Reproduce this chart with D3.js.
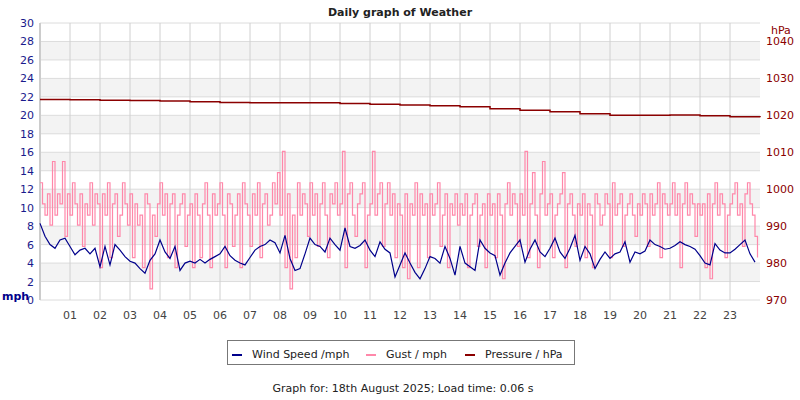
<!DOCTYPE html>
<html>
<head>
<meta charset="utf-8">
<script src="https://cdn.jsdelivr.net/npm/d3@7"></script>
<style>
body{margin:0;background:#fff;}
text{font-family:"DejaVu Sans",sans-serif;}
</style>
</head>
<body>
<svg id="chart" width="800" height="400"></svg>
<script>
// hour tick labels
const hourLabels = ["01","02","03","04","05","06","07","08","09","10","11","12","13","14","15","16","17","18","19","20","21","22","23"];

// wind speed, 10 minute samples (mph)
const windSpeed = [
  8.3,6.9,6.0,5.6,6.5,6.7, 5.8,4.9,5.4,5.6,5.0,5.6, 3.6,5.8,3.8,6.0,5.4,4.7,
  4.2,4.0,3.4,2.9,4.3,5.0, 6.5,5.2,4.5,5.8,3.2,4.0, 4.2,4.0,4.4,4.0,4.4,4.7,
  5.0,5.8,4.8,4.3,4.0,3.8, 4.6,5.4,5.8,6.0,6.5,6.2, 5.1,7.0,4.5,3.2,3.4,5.0,
  6.7,6.0,5.8,5.2,6.7,6.0, 5.4,7.8,5.8,5.6,5.9,6.5, 5.4,4.7,6.3,5.5,5.1,2.5,
  3.8,5.1,4.0,3.0,2.3,3.4, 4.7,4.5,4.0,5.8,4.5,2.7, 5.8,4.0,3.6,3.2,6.5,5.6,
  5.1,4.8,2.7,4.0,5.1,5.8, 6.5,4.1,5.5,6.5,5.2,4.7, 5.6,6.7,5.2,4.5,5.6,7.0,
  4.3,5.8,5.0,3.4,4.4,5.2, 4.5,5.0,5.2,6.3,4.1,5.2, 5.0,5.3,6.5,6.0,5.8,5.5,
  5.6,5.9,6.3,6.0,5.8,5.5, 4.8,4.0,3.8,6.1,5.4,5.1, 5.1,5.5,6.0,6.5,5.0,4.1
];

// gust, 5 minute samples (mph)
const gust = [
  12.7,10.4,9.2,11.5,8.1,15.0,9.2,11.5,10.4,15.0,6.9,11.5,
  9.2,12.7,10.4,8.1,11.5,5.8,10.4,9.2,12.7,8.1,11.5,10.4,
  3.5,11.5,9.2,12.7,4.6,10.4,11.5,6.9,9.2,12.7,10.4,8.1,
  11.5,4.6,10.4,8.1,9.2,3.5,11.5,10.4,1.2,9.2,6.9,10.4,
  12.7,9.2,11.5,4.6,10.4,11.5,3.5,9.2,10.4,11.5,5.8,9.2,
  10.4,3.5,11.5,9.2,4.6,10.4,12.7,9.2,3.5,11.5,9.2,10.4,
  12.7,9.2,3.5,11.5,10.4,5.8,9.2,11.5,3.5,12.7,10.4,9.2,
  5.8,11.5,9.2,12.7,4.6,10.4,11.5,8.1,9.2,12.7,10.4,13.8,
  9.2,16.1,3.5,11.5,1.2,9.2,4.6,12.7,9.2,11.5,10.4,6.9,
  12.7,9.2,11.5,5.8,10.4,12.7,9.2,4.6,11.5,10.4,12.7,9.2,
  10.4,16.1,3.5,11.5,12.7,9.2,6.9,10.4,11.5,12.7,3.5,9.2,
  10.4,16.1,9.2,11.5,12.7,5.8,10.4,12.7,9.2,11.5,4.6,10.4,
  9.2,3.5,11.5,2.3,10.4,9.2,12.7,3.5,11.5,9.2,10.4,4.6,
  11.5,9.2,10.4,12.7,5.8,9.2,11.5,3.5,10.4,9.2,11.5,8.1,
  10.4,9.2,11.5,3.5,9.2,10.4,11.5,5.8,9.2,10.4,3.5,11.5,
  9.2,10.4,4.6,11.5,9.2,2.3,10.4,12.7,9.2,11.5,10.4,5.8,
  11.5,9.2,16.1,4.6,10.4,13.8,9.2,3.5,11.5,15.0,9.2,10.4,
  11.5,4.6,9.2,10.4,11.5,13.8,3.5,10.4,11.5,9.2,5.8,10.4,
  9.2,11.5,4.6,10.4,9.2,3.5,11.5,10.4,8.1,9.2,11.5,10.4,
  4.6,12.7,9.2,10.4,11.5,5.8,9.2,10.4,11.5,9.2,6.9,10.4,
  9.2,11.5,10.4,5.8,11.5,9.2,10.4,12.7,4.6,11.5,10.4,9.2,
  10.4,12.7,9.2,11.5,3.5,10.4,12.7,9.2,11.5,10.4,6.9,10.4,
  9.2,10.4,3.5,11.5,2.3,10.4,12.7,9.2,11.5,10.4,4.6,9.2,
  10.4,11.5,12.7,9.2,10.4,5.8,11.5,12.7,10.4,9.2,6.9,4.6
];

// pressure, hourly (hPa)
const pressure = [1024.3,1024.2,1024.1,1024.0,1023.9,1023.7,1023.5,1023.4,1023.4,1023.4,1023.2,1023.0,
  1022.8,1022.6,1022.3,1021.8,1021.4,1021.0,1020.4,1020.0,1020.0,1020.1,1019.9,1019.6,1019.5];

const svg = d3.select("#chart");
const pLeft = 40, pRight = 760, pTop = 23, pBottom = 300;

const x = d3.scaleLinear().domain([0, 24]).range([pLeft, pRight]);
const y = d3.scaleLinear().domain([0, 30]).range([pBottom, pTop]);
const yP = d3.scaleLinear().domain([970, 1045]).range([pBottom, pTop]);

// grey bands
svg.selectAll("rect.band").data(d3.range(2, 30, 4)).enter().append("rect")
  .attr("x", pLeft).attr("width", pRight - pLeft)
  .attr("y", d => y(d + 2)).attr("height", d => y(d) - y(d + 2))
  .attr("fill", "#f3f3f3");

// horizontal grid
svg.selectAll("line.hg").data(d3.range(0, 31, 2)).enter().append("line")
  .attr("x1", pLeft).attr("x2", pRight).attr("y1", d => y(d)).attr("y2", d => y(d))
  .attr("stroke", "#dcdcdc");
// vertical grid
svg.selectAll("line.vg").data(d3.range(1, 24)).enter().append("line")
  .attr("y1", pTop).attr("y2", pBottom).attr("x1", d => x(d)).attr("x2", d => x(d))
  .attr("stroke", "#d0d0d0");
svg.append("line").attr("x1", pLeft).attr("x2", pLeft).attr("y1", pTop).attr("y2", pBottom)
  .attr("stroke", "#cccccc").attr("stroke-width", 2);

// gust
const gustLine = d3.line().curve(d3.curveStepAfter).x((d, i) => x(i / 12)).y(d => y(d));
svg.append("path").datum(gust).attr("d", gustLine)
  .attr("fill", "none").attr("stroke", "#ff88aa").attr("stroke-width", 1.2);

// wind
const windLine = d3.line().x((d, i) => x(i / 6)).y(d => y(d));
svg.append("path").datum(windSpeed).attr("d", windLine)
  .attr("fill", "none").attr("stroke", "#00008b").attr("stroke-width", 1.2);

// pressure
const pLine = d3.line().curve(d3.curveStepAfter).x((d, i) => x(i)).y(d => yP(d));
svg.append("path").datum(pressure).attr("d", pLine)
  .attr("fill", "none").attr("stroke", "#8b0000").attr("stroke-width", 1.5);

// left ticks
svg.selectAll("text.yl").data(d3.range(0, 31, 2)).enter().append("text")
  .attr("x", 34).attr("y", d => y(d) + 4).attr("text-anchor", "end")
  .attr("font-size", 11).attr("fill", "#1a1a8c").text(d => d);
// right ticks
svg.selectAll("text.yr").data(d3.range(970, 1041, 10)).enter().append("text")
  .attr("x", 766).attr("y", d => yP(d) + 4)
  .attr("font-size", 11).attr("fill", "#8b0000").text(d => d);
svg.append("text").attr("x", 771).attr("y", 34).attr("font-size", 11).attr("fill", "#8b0000").text("hPa");
svg.append("text").attr("x", 2).attr("y", 300).attr("font-size", 11).attr("font-weight", "bold")
  .attr("fill", "#00008b").text("mph");

// x labels
svg.selectAll("text.xl").data(hourLabels).enter().append("text")
  .attr("x", (d, i) => x(i + 1)).attr("y", 319).attr("text-anchor", "middle")
  .attr("font-size", 11).attr("fill", "#444").text(d => d);

// title
svg.append("text").attr("x", 400).attr("y", 16).attr("text-anchor", "middle")
  .attr("font-family", "DejaVu Sans Mono").attr("font-weight", "bold").attr("font-size", 11)
  .attr("fill", "#222").text("Daily graph of Weather");

// legend
svg.append("rect").attr("x", 227.5).attr("y", 340.5).attr("width", 347).attr("height", 24)
  .attr("fill", "#fff").attr("stroke", "#777");
const legend = [
  {t: "Wind Speed /mph", c: "#00008b", x: 232},
  {t: "Gust / mph", c: "#ff88aa", x: 366},
  {t: "Pressure / hPa", c: "#8b0000", x: 465}
];
legend.forEach(l => {
  svg.append("line").attr("x1", l.x).attr("x2", l.x + 10).attr("y1", 355).attr("y2", 355)
    .attr("stroke", l.c).attr("stroke-width", 2);
  svg.append("text").attr("x", l.x + 20).attr("y", 358).attr("font-size", 11).attr("fill", "#222").text(l.t);
});

svg.append("text").attr("x", 403).attr("y", 392).attr("text-anchor", "middle")
  .attr("font-size", 11).attr("fill", "#222").text("Graph for: 18th August 2025; Load time: 0.06 s");
</script>
</body>
</html>
